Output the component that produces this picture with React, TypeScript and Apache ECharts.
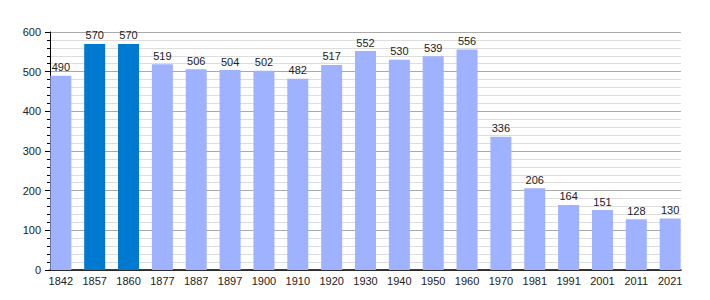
import React, { useEffect, useRef } from "react";
import * as echarts from "echarts";

const years = ["1842", "1857", "1860", "1877", "1887", "1897", "1900", "1910", "1920", "1930", "1940", "1950", "1960", "1970", "1981", "1991", "2001", "2011", "2021"];
const population = [490, 570, 570, 519, 506, 504, 502, 482, 517, 552, 530, 539, 556, 336, 206, 164, 151, 128, 130];
const highlighted = ["1857", "1860"];

const LIGHT = "#9eb2ff";
const DARK = "#0079d0";

export default function App() {
  const ref = useRef<HTMLDivElement>(null);
  useEffect(() => {
    if (!ref.current) return;
    const chart = echarts.init(ref.current, null, { renderer: "svg" });
    const idx = years.map((_, i) => i);
    chart.setOption({
      animation: false,
      textStyle: { fontFamily: "Liberation Sans, Arial, sans-serif" },
      grid: { left: 50, right: 29, top: 32, bottom: 30 },
      xAxis: {
        type: "value",
        min: -0.32,
        max: years.length - 1 + 0.32,
        axisLine: { show: true, onZero: false, lineStyle: { color: "#000", width: 1.5 } },
        axisTick: { show: false },
        splitLine: { show: false },
        axisLabel: {
          customValues: idx,
          formatter: (v: number) => years[Math.round(v)] ?? "",
          color: "#222",
          fontSize: 11,
          margin: 5,
        },
      },
      yAxis: {
        type: "value",
        min: 0,
        max: 600,
        interval: 100,
        axisLine: { show: true, onZero: false, lineStyle: { color: "#000", width: 1 } },
        axisTick: { show: true, length: 5, lineStyle: { color: "#000" } },
        minorTick: { show: true, splitNumber: 5, length: 3, lineStyle: { color: "#000" } },
        splitLine: { show: true, lineStyle: { color: "#aaaaaa", width: 1 } },
        minorSplitLine: { show: true, lineStyle: { color: "#dddddd", width: 1 } },
        axisLabel: { color: "#222", fontSize: 11, margin: 9 },
      },
      series: [
        {
          type: "bar",
          barWidth: 21,
          data: population.map((v, i) => ({
            value: [i, v],
            itemStyle: { color: highlighted.includes(years[i]) ? DARK : LIGHT },
          })),
          label: {
            show: true,
            position: "top",
            distance: 3,
            color: "#222",
            fontSize: 11,
            formatter: (p: any) => String(p.value[1]),
          },
        },
      ],
    });
    return () => chart.dispose();
  }, []);
  return <div ref={ref} style={{ width: 710, height: 300, position: "absolute", left: 0, top: 0 }} />;
}
